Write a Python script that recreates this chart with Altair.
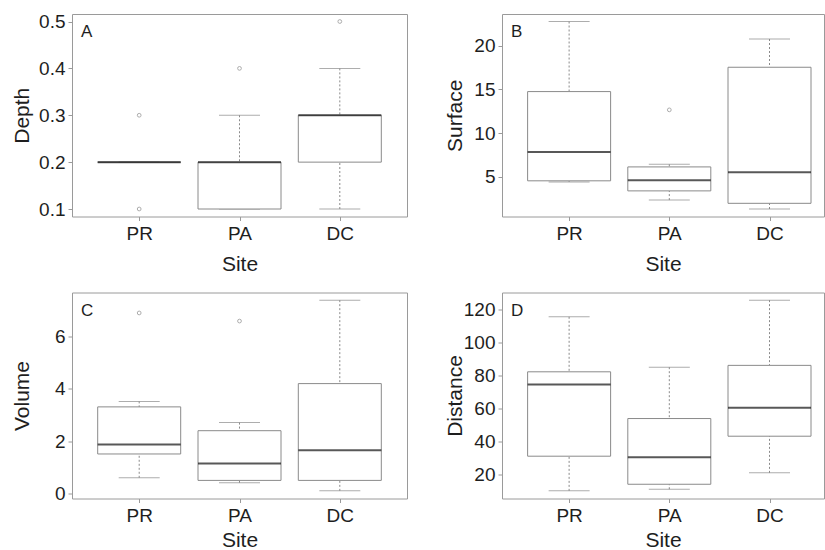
import json
import altair as alt
import pandas as pd

# ---------------- data (box statistics) ----------------
sites = ["PR", "PA", "DC"]
site_pos = [1, 2, 3]

# Panel A: Depth
depth_lo = [0.2, 0.1, 0.1]
depth_q1 = [0.2, 0.1, 0.2]
depth_med = [0.2, 0.2, 0.3]
depth_q3 = [0.2, 0.2, 0.3]
depth_hi = [0.2, 0.3, 0.4]
depth_out = [[0.3, 0.1], [0.4], [0.5]]
depth_ticks = [0.1, 0.2, 0.3, 0.4, 0.5]

# Panel B: Surface
surface_lo = [4.43, 2.35, 1.33]
surface_q1 = [4.55, 3.40, 1.98]
surface_med = [7.84, 4.62, 5.53]
surface_q3 = [14.75, 6.14, 17.53]
surface_hi = [22.76, 6.44, 20.76]
surface_out = [[], [12.66], []]
surface_ticks = [5, 10, 15, 20]

# Panel C: Volume
volume_lo = [0.60, 0.41, 0.10]
volume_q1 = [1.51, 0.50, 0.50]
volume_med = [1.87, 1.15, 1.65]
volume_q3 = [3.31, 2.40, 4.20]
volume_hi = [3.52, 2.71, 7.39]
volume_out = [[6.90], [6.59], []]
volume_ticks = [0, 2, 4, 6]

# Panel D: Distance
distance_lo = [10.1, 11.1, 21.0]
distance_q1 = [31.1, 14.1, 43.2]
distance_med = [74.5, 30.5, 60.4]
distance_q3 = [82.2, 53.9, 86.1]
distance_hi = [115.5, 85.0, 125.6]
distance_out = [[], [], []]
distance_ticks = [20, 40, 60, 80, 100, 120]

FONT = "Liberation Sans"
TXT = "#1e1e1e"
GREY = "#8a8a8a"
label_expr = json.dumps(sites) + "[datum.value - 1]"


def panel(letter, title, lo, q1, med, q3, hi, out, ticks, fmt,
          width, height, xmax, title_x, site_title_y):
    box = pd.DataFrame({"site": sites, "pos": site_pos, "lo": lo, "q1": q1,
                        "med": med, "q3": q3, "hi": hi})
    outs = pd.DataFrame([{"pos": p, "v": v} for p, vs in zip(site_pos, out) for v in vs],
                        columns=["pos", "v"])
    allv = lo + hi + [v for vs in out for v in vs]
    vmin, vmax = min(allv), max(allv)
    ext = 0.04 * (vmax - vmin)
    yscale = alt.Scale(domain=[vmin - ext, vmax + ext], nice=False, zero=False)
    yaxis = alt.Axis(values=ticks, format=fmt, title=title, titleX=title_x,
                     titleBaseline="alphabetic")
    xscale = alt.Scale(domain=[0.38, xmax], nice=False, zero=False)
    xaxis = alt.Axis(values=site_pos, labelExpr=label_expr, title="Site",
                     titleY=site_title_y, titleBaseline="alphabetic")

    def X():
        return alt.X("pos:Q", scale=xscale, axis=xaxis)

    def Y(field):
        return alt.Y(field, type="quantitative", scale=yscale, axis=yaxis)

    base = alt.Chart(box)
    upper = base.mark_rule(color=GREY, strokeWidth=1, strokeDash=[2, 2]).encode(
        x=X(), y=Y("hi"), y2="q3")
    lower = base.mark_rule(color=GREY, strokeWidth=1, strokeDash=[2, 2]).encode(
        x=X(), y=Y("lo"), y2="q1")
    cap_hi = base.mark_tick(orient="horizontal", size=41, thickness=1, color=GREY).encode(
        x=X(), y=Y("hi"))
    cap_lo = base.mark_tick(orient="horizontal", size=41, thickness=1, color=GREY).encode(
        x=X(), y=Y("lo"))
    rect = base.mark_bar(orient="vertical", size=83, fill="white", stroke=GREY,
                         strokeWidth=1).encode(x=X(), y=Y("q3"), y2="q1")
    median = base.mark_tick(orient="horizontal", size=83, thickness=2,
                            color="#111111").encode(x=X(), y=Y("med"))
    layers = [upper, lower, cap_hi, cap_lo, rect, median]
    if len(outs):
        pts = alt.Chart(outs).mark_point(shape="circle", size=14, filled=False,
                                         color=GREY, strokeWidth=1).encode(
            x=X(), y=Y("v"))
        layers.append(pts)
    lab = alt.Chart(pd.DataFrame({"t": [letter]})).mark_text(
        align="left", baseline="alphabetic", font=FONT, fontSize=17, color=TXT
    ).encode(x=alt.value(9), y=alt.value(23), text="t:N")
    layers.append(lab)
    return alt.layer(*layers).properties(width=width, height=height)


pA = panel("A", "Depth", depth_lo, depth_q1, depth_med, depth_q3, depth_hi, depth_out,
           depth_ticks, ".1f", 335, 202.5, 3.62, -44, 53.5)
pB = panel("B", "Surface", surface_lo, surface_q1, surface_med, surface_q3, surface_hi,
           surface_out, surface_ticks, "d", 322, 202.5, 3.494, -41, 53.5)
pC = panel("C", "Volume", volume_lo, volume_q1, volume_med, volume_q3, volume_hi,
           volume_out, volume_ticks, "d", 335, 206, 3.62, -44, 47.5)
pD = panel("D", "Distance", distance_lo, distance_q1, distance_med, distance_q3,
           distance_hi, distance_out, distance_ticks, "d", 322, 206, 3.494, -41, 47.5)

chart = alt.concat(pA, pB, pC, pD, columns=2, spacing={"row": 75.5, "column": 95},
                   bounds="flush", align="each").properties(
    padding={"left": 10, "top": 12, "right": 0, "bottom": 0},
    background="white",
).configure_view(stroke="#9a9a9a", strokeWidth=1).configure_axis(
    domain=False, grid=False, tickColor="#9a9a9a", tickSize=4, tickWidth=1,
    labelFont=FONT, labelFontSize=19, labelColor=TXT, labelPadding=4,
    titleFont=FONT, titleFontSize=21, titleFontWeight="normal", titleColor=TXT,
).configure_axisY(labelPadding=3)

chart.save("out.html", embed_options={"renderer": "svg", "actions": False})
